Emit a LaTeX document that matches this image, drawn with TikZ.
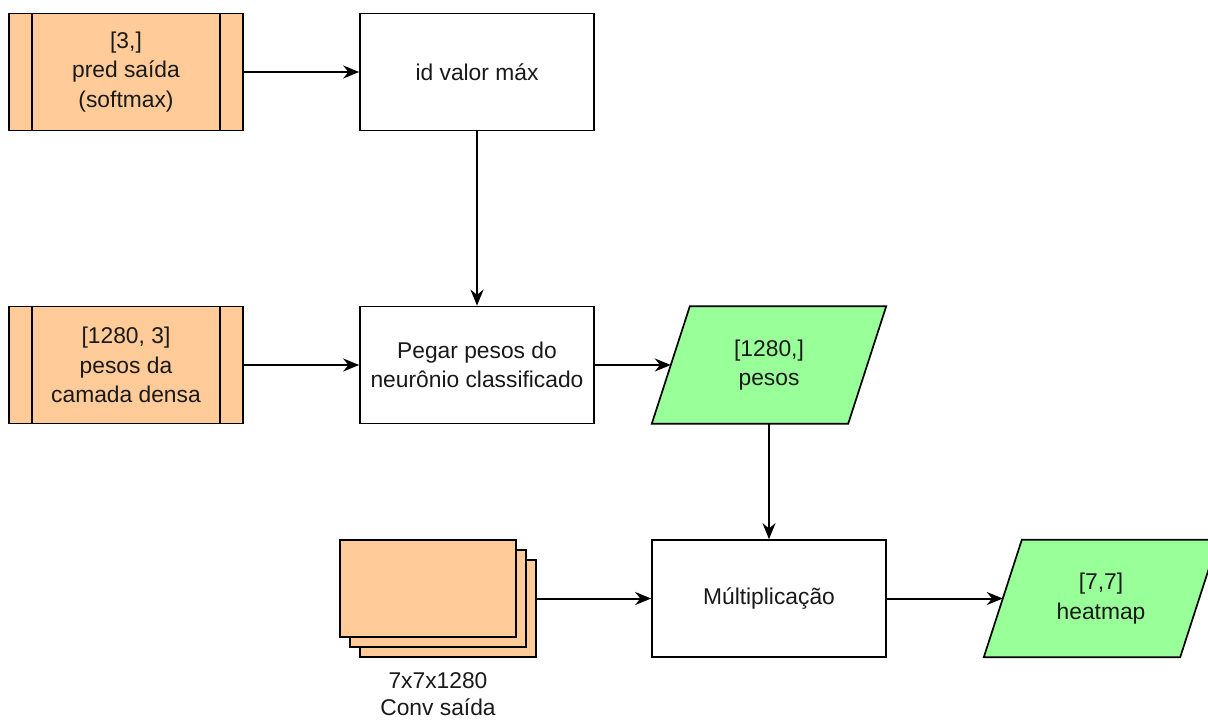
\documentclass[tikz,border=0pt]{standalone}
\usepackage{fontspec}
\setmainfont{Liberation Sans}
\usetikzlibrary{arrows.meta,fit}
\definecolor{orangefill}{HTML}{FFCC99}
\definecolor{greenfill}{HTML}{99FF99}
\begin{document}
\begin{tikzpicture}[x=1pt,y=-1pt,
  txt/.style={font=\fontsize{22.8}{29.5}\selectfont, align=center, text=black!90},
  procbox/.style={txt, draw, line width=1.7pt, fill=white, minimum width=234pt, minimum height=117pt, inner sep=0pt},
  databox/.style={txt, draw, line width=1.7pt, fill=orangefill, minimum width=234pt, minimum height=117pt, inner sep=0pt,
    path picture={
      \draw[line width=1.5pt] ([xshift=23pt]path picture bounding box.north west) -- ([xshift=23pt]path picture bounding box.south west);
      \draw[line width=1.5pt] ([xshift=-23pt]path picture bounding box.north east) -- ([xshift=-23pt]path picture bounding box.south east);
    }},
  iobox/.style={txt, minimum width=234pt, minimum height=117pt, inner sep=0pt},
  card/.style={draw, line width=1.7pt, fill=orangefill, minimum width=176pt, minimum height=97pt, inner sep=0pt},
  flow/.style={line width=2pt, -{Stealth[length=16pt,width=13pt]}}
]
\useasboundingbox (0,0) rectangle (1208,720);

% parallelogram drawn behind a plain text node
\newcommand{\slantframe}[1]{%
  \draw[line width=1.7pt, fill=greenfill]
    ([xshift=38pt]#1.north west) -- (#1.north east) --
    ([xshift=-38pt]#1.south east) -- (#1.south west) -- cycle;}

% top row
\node[databox] (pred) at (126,72) {[3,]\\pred saída\\(softmax)};
\node[procbox] (idmax) at (477,72) {id valor máx};

% middle row
\node[databox] (dense) at (126,365) {[1280, 3]\\pesos da\\camada densa};
\node[procbox] (pegar) at (477,365) {Pegar pesos do\\neurônio classificado};
\node[iobox] (pesos) at (769,365) {};
\slantframe{pesos}
\node[txt] at (pesos) {[1280,]\\pesos};

% bottom row: stack of feature maps
\node[card] (card3) at (448,608.5) {};
\node[card] (card2) at (438,598.5) {};
\node[card] (card1) at (428,588.5) {};
\node[fit=(card1)(card3), inner sep=0pt] (conv) {};
\node[txt, font=\fontsize{22.8}{27}\selectfont, inner sep=0pt, anchor=south] (convlbl) at (438,716) {7x7x1280\\Conv saída};

\node[procbox] (mult) at (769,598.5) {Múltiplicação};
\node[iobox] (heat) at (1101,598.5) {};
\slantframe{heat}
\node[txt] at (heat) {[7,7]\\heatmap};

% connectors
\draw[flow] (pred) -- (idmax);
\draw[flow] (idmax) -- (pegar);
\draw[flow] (dense) -- (pegar);
\draw[flow] (pegar) -- ([xshift=19pt]pesos.west);
\draw[flow] (pesos) -- (mult);
\draw[flow] (conv) -- (mult);
\draw[flow] (mult) -- ([xshift=19pt]heat.west);
\end{tikzpicture}
\end{document}
